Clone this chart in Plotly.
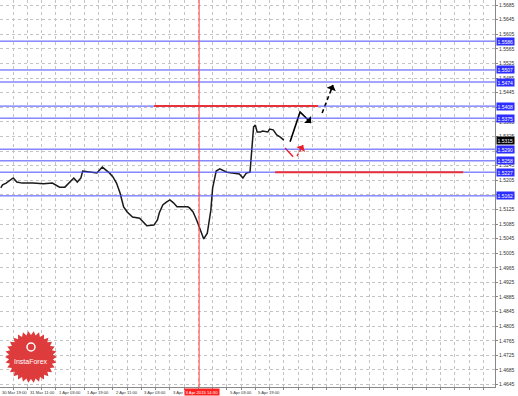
import math
import plotly.graph_objects as go

# ---------------- data ----------------
hours = [1, 2, 4, 8, 10, 13, 19, 25, 30, 34, 37, 40, 42, 44, 46, 47, 51, 55, 58, 61,
         62, 64, 66, 68, 70, 72, 75, 79, 81, 83, 87, 89, 90, 92, 94, 96, 98, 100, 103,
         106, 107, 109, 111, 113, 115, 117, 119, 120, 122, 124, 128, 131, 135, 137, 139,
         141, 142, 143, 144, 145, 147, 148, 151, 152, 154, 156, 158, 160]
closes = [1.5184, 1.5192, 1.5197, 1.5211, 1.5200, 1.5197, 1.5197, 1.5195, 1.5197, 1.5186,
          1.5186, 1.5200, 1.5211, 1.5200, 1.5211, 1.5230, 1.5227, 1.5225, 1.5241, 1.5230,
          1.5225, 1.5214, 1.5197, 1.5170, 1.5132, 1.5118, 1.5104, 1.5101, 1.5090, 1.5080,
          1.5082, 1.5096, 1.5115, 1.5137, 1.5145, 1.5151, 1.5143, 1.5132, 1.5132, 1.5132,
          1.5129, 1.5118, 1.5096, 1.5069, 1.5044, 1.5060, 1.5123, 1.5184, 1.5230, 1.5236,
          1.5227, 1.5225, 1.5222, 1.5211, 1.5225, 1.5227, 1.5296, 1.5351, 1.5356, 1.5337,
          1.5337, 1.5340, 1.5337, 1.5345, 1.5343, 1.5329, 1.5323, 1.5315]

ytick_vals = [round(1.4645 + 0.004 * i, 4) for i in range(27)]
ytick_text = [f"{v:.4f}" for v in ytick_vals]

xtick_hours = [0, 16, 32, 48, 64, 80, 96, 128, 144]
xtick_text = ["30 Mar 19:00", "31 Mar 11:00", "1 Apr 03:00", "1 Apr 19:00", "2 Apr 11:00",
              "3 Apr 03:00", "3 Apr 19:00", "5 Apr 03:00", "5 Apr 19:00"]

level_prices = [1.5586, 1.5507, 1.5474, 1.5408, 1.5375, 1.5290, 1.5258, 1.5227, 1.5162]
current_price = 1.5315

red_levels = [1.5408, 1.5227]
red_starts = [87.1, 155.1]
red_ends = [179.2, 260.7]

vline_hour = 112.4
vline_label = "3 Apr 2015 14:30"

black_path_h = [163.5, 169.1, 175.3]
black_path_p = [1.5310, 1.5392, 1.5362]
black_dash_h = [181.5, 187.6]
black_dash_p = [1.5389, 1.5466]
red_path1_h = [160.7, 165.2]
red_path1_p = [1.5293, 1.5269]
red_path2_h = [167.4, 170.8]
red_path2_p = [1.5271, 1.5301]

# ---------------- geometry ----------------
W, H = 518, 396
ML, MR, MT, MB = 0, 23, 0, 9
PW, PH = W - ML - MR, H - MT - MB
XR = [0.56, 278.6]
YR = [1.46384, 1.56987]


def xpaper(h):
    return (h - XR[0]) / (XR[1] - XR[0])


fig = go.Figure()

# price line
fig.add_trace(go.Scatter(x=hours, y=closes, mode="lines",
                         line=dict(color="#1a1a1a", width=1.5), hoverinfo="skip"))

# forecast arrows
fig.add_trace(go.Scatter(x=black_path_h, y=black_path_p, mode="lines",
                         line=dict(color="black", width=1.6)))
fig.add_trace(go.Scatter(x=black_dash_h, y=black_dash_p, mode="lines",
                         line=dict(color="black", width=1.6, dash="4px,3px")))
fig.add_trace(go.Scatter(x=red_path1_h, y=red_path1_p, mode="lines",
                         line=dict(color="#e8202a", width=1.4)))
fig.add_trace(go.Scatter(x=red_path2_h, y=red_path2_p, mode="lines",
                         line=dict(color="#e8202a", width=1.4, dash="3px,2px")))

annotations = []
shapes = []


def head(hx, hy, tx, ty, color):
    annotations.append(dict(x=hx, y=hy, ax=hx - (hx - tx) * 0.25, ay=hy - (hy - ty) * 0.25,
                            xref="x", yref="y", axref="x", ayref="y", text="",
                            showarrow=True, arrowhead=1, arrowsize=1.1, arrowwidth=1.5,
                            arrowcolor=color, standoff=0))


head(black_path_h[-1], black_path_p[-1], black_path_h[-2], black_path_p[-2], "black")
head(black_dash_h[-1], black_dash_p[-1], black_dash_h[-2], black_dash_p[-2], "black")
head(red_path2_h[-1], red_path2_p[-1], red_path2_h[-2], red_path2_p[-2], "#e8202a")

# blue horizontal levels
for p in level_prices:
    shapes.append(dict(type="line", xref="paper", x0=0, x1=1, yref="y", y0=p, y1=p,
                       line=dict(color="#4a4aff", width=1)))
    annotations.append(dict(x=1, xref="paper", y=p, yref="y", xanchor="left",
                            text=f"{p:.4f}", showarrow=False, xshift=1,
                            font=dict(size=5, color="white", family="Arial"),
                            bgcolor="#2d2dff", borderpad=0.6))

# current price
annotations.append(dict(x=1, xref="paper", y=current_price, yref="y", xanchor="left",
                        text=f"{current_price:.4f}", showarrow=False, xshift=1,
                        font=dict(size=5, color="white", family="Arial"),
                        bgcolor="black", borderpad=0.6))

# red horizontal lines
for lv, s, e in zip(red_levels, red_starts, red_ends):
    shapes.append(dict(type="line", xref="x", yref="y", x0=s, x1=e, y0=lv, y1=lv,
                       line=dict(color="#e8303a", width=2)))

# vertical red line
shapes.append(dict(type="line", xref="x", yref="paper", x0=vline_hour, x1=vline_hour,
                   y0=0, y1=1, line=dict(color="#ff4040", width=1)))

# x tick labels (left aligned like MT4)
for hh, t in zip(xtick_hours, xtick_text):
    annotations.append(dict(x=xpaper(hh), xref="paper", y=0, yref="paper", yanchor="top",
                            xanchor="left", text=t, showarrow=False, xshift=1, yshift=-1,
                            font=dict(size=4.2, color="#333333", family="Arial")))
annotations.append(dict(x=xpaper(vline_hour), xref="paper", y=0, yref="paper",
                        yanchor="top", xanchor="center", text=vline_label,
                        showarrow=False, yshift=-1, xshift=3,
                        font=dict(size=4.2, color="white", family="Arial"),
                        bgcolor="#ff2020", borderpad=0.6))

# InstaForex logo (starburst)
cx, cy, ro, ri, n = 31, 357, 26, 22, 30


def to_paper(px, py):
    return (px / PW, 1 - py / PH)


pts = []
for i in range(2 * n):
    r = ro if i % 2 == 0 else ri
    a = math.pi * i / n
    pts.append(to_paper(cx + r * math.cos(a), cy + r * math.sin(a)))
path = "M " + " L ".join(f"{x:.4f},{y:.4f}" for x, y in pts) + " Z"
shapes.append(dict(type="path", xref="paper", yref="paper", path=path,
                   fillcolor="#de3c3c", line=dict(width=0), layer="above"))
x0, y0 = to_paper(cx - 4, cy - 14)
x1, y1 = to_paper(cx + 4, cy - 6)
shapes.append(dict(type="circle", xref="paper", yref="paper", x0=x0, x1=x1, y0=y1, y1=y0,
                   line=dict(color="white", width=1.5), layer="above"))
annotations.append(dict(x=cx / PW, y=1 - (cy + 4) / PH, xref="paper", yref="paper",
                        xanchor="center", yanchor="middle",
                        text="InstaForex", showarrow=False,
                        font=dict(size=7, color="white", family="Arial")))

fig.update_layout(
    width=W, height=H, margin=dict(l=ML, r=MR, t=MT, b=MB),
    paper_bgcolor="white", plot_bgcolor="white", showlegend=False,
    shapes=shapes, annotations=annotations,
    xaxis=dict(range=XR, tickmode="linear", tick0=0, dtick=8, showticklabels=False,
               showgrid=True, gridcolor="#c4c4c4", griddash="dot", gridwidth=1,
               zeroline=False, showline=True, linecolor="#888888", linewidth=1,
               ticks="outside", ticklen=2, tickcolor="#888888", mirror=False),
    yaxis=dict(range=YR, side="right", tickmode="array", tickvals=ytick_vals,
               ticktext=ytick_text, tickfont=dict(size=5, color="#333333", family="Arial"),
               showgrid=True, gridcolor="#c4c4c4", griddash="dot", gridwidth=1,
               zeroline=False, showline=True, linecolor="#888888", linewidth=1,
               ticks="outside", ticklen=2, tickcolor="#888888"),
)

fig.write_html("out.html")
